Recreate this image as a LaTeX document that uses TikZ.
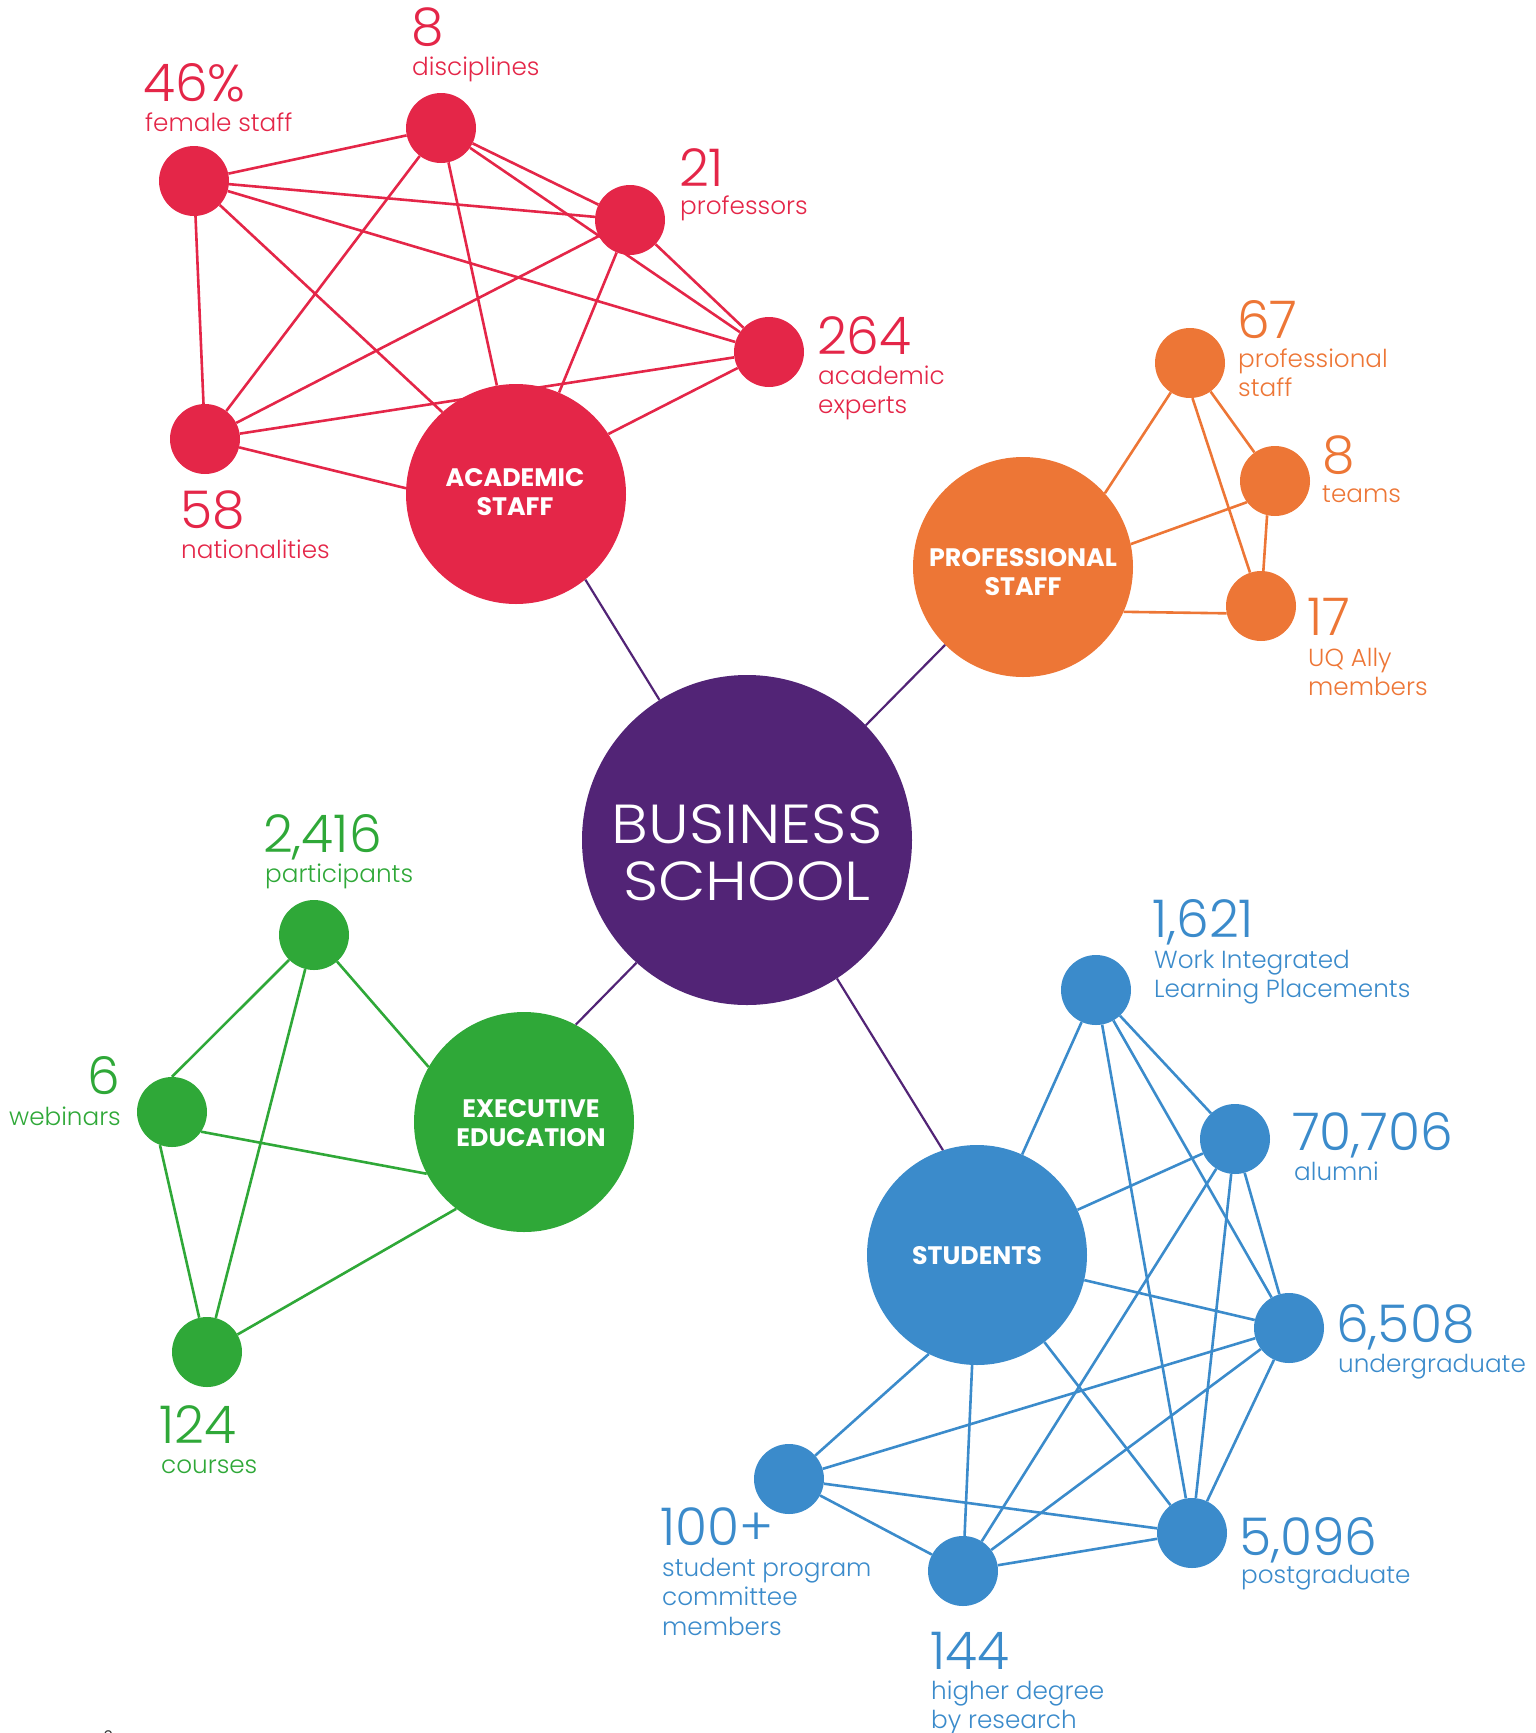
\documentclass[tikz,border=0pt]{standalone}
\usepackage{fontspec}
\setmainfont{Poppins}
\newfontfamily\lightf{Poppins Light}
\newfontfamily\widef{Poppins Light}[FakeStretch=1.12]
\newfontfamily\boldf{Poppins Bold}
\definecolor{ared}{RGB}{228,38,72}
\definecolor{aorange}{RGB}{237,118,54}
\definecolor{agreen}{RGB}{47,168,56}
\definecolor{ablue}{RGB}{59,139,203}
\definecolor{apurple}{RGB}{82,36,118}
\newcommand\ml[1]{\begin{tabular}[t]{@{}l@{}}#1\end{tabular}}
\newcommand\mc[1]{\begin{tabular}[t]{@{}c@{}}#1\end{tabular}}
\tikzset{
  dot/.style={circle, inner sep=0pt, minimum size=70pt, fill=#1},
  hub/.style={circle, inner sep=0pt, minimum size=220pt, fill=#1},
  link/.style={draw=#1, line width=2.6pt},
  plink/.style={draw=apurple, line width=2.2pt},
  num/.style={anchor=base west, inner sep=0pt, font=\lightf\fontsize{52}{56}\selectfont, text=#1},
  lbl/.style={anchor=base west, inner sep=0pt, font=\lightf\fontsize{24.7}{29.5}\selectfont, text=#1},
  inlbl/.style={anchor=base, inner sep=0pt, text=white, font=\boldf\fontsize{25.3}{29.5}\selectfont},
}
\begin{document}
\begin{tikzpicture}[x=1pt,y=-1pt]
\useasboundingbox (0,0) rectangle (1535,1733);
% ---- central hub
\node[circle, inner sep=0pt, minimum size=330pt, fill=apurple] (bs) at (747,840) {};
% ---- academic (red)
\node[dot=ared] (fem) at (194,181) {};
\node[dot=ared] (dis) at (441,128) {};
\node[dot=ared] (pro) at (630,220) {};
\node[dot=ared] (exp) at (769,352) {};
\node[dot=ared] (nat) at (205,439) {};
\node[hub=ared] (aca) at (516,494) {};
\foreach \a/\b in {fem/dis,fem/pro,fem/exp,fem/nat,dis/pro,dis/exp,dis/nat,pro/exp,pro/nat,exp/nat}
  \draw[link=ared] (\a) -- (\b);
\draw[link=ared] (fem) -- (aca.132);
\draw[link=ared] (dis) -- (aca.100);
\draw[link=ared] (pro) -- (aca.67);
\draw[link=ared] (exp) -- (aca.33);
\draw[link=ared] (nat) -- (aca.177);
% ---- professional (orange)
\node[dot=aorange] (psf) at (1190,363) {};
\node[dot=aorange] (tea) at (1275,481) {};
\node[dot=aorange] (uqa) at (1261,606) {};
\node[hub=aorange] (prf) at (1023,567) {};
\draw[link=aorange] (psf) -- (prf.42);
\draw[link=aorange] (prf.12) -- (tea.217);
\draw[link=aorange] (prf.-24) -- (uqa.192);
\draw[link=aorange] (psf) -- (tea);
\draw[link=aorange] (psf.-86) -- (uqa);
\draw[link=aorange] (tea.257) -- (uqa);
% ---- executive (green)
\node[dot=agreen] (par) at (314,935) {};
\node[dot=agreen] (web) at (172,1112) {};
\node[dot=agreen] (cou) at (207,1352) {};
\node[hub=agreen] (exe) at (524,1122) {};
\draw[link=agreen] (par) -- (web.north);
\draw[link=agreen] (par) -- (cou);
\draw[link=agreen] (par) -- (exe.150);
\draw[link=agreen] (web.-34) -- (exe.208);
\draw[link=agreen] (web.250) -- (cou);
\draw[link=agreen] (cou) -- (exe.232);
% ---- students (blue)
\node[dot=ablue] (wil) at (1096,990) {};
\node[dot=ablue] (alu) at (1235,1139) {};
\node[dot=ablue] (und) at (1289,1328) {};
\node[dot=ablue] (pos) at (1192,1533) {};
\node[dot=ablue] (hdr) at (963,1571) {};
\node[dot=ablue] (spc) at (789,1479) {};
\node[hub=ablue] (stu) at (977,1255) {};
\foreach \a/\b in {stu/wil,stu/alu,stu/und,stu/pos,stu/hdr,wil/alu,wil/und,wil/pos,alu/und,alu/pos,alu/hdr,und/pos,und/hdr,und/spc,pos/hdr,pos/spc,hdr/spc}
  \draw[link=ablue] (\a) -- (\b);
\draw[link=ablue] (spc) -- (stu.244);
% ---- purple spokes
\draw[plink] (bs.122.7) -- (aca.-51);
\draw[plink] (bs.44.5) -- (prf.225.4);
\draw[plink] (bs.228.5) -- (exe.62.4);
\draw[plink] (bs.-57) -- (stu.108.7);
% ---- hub texts
\node[anchor=base, inner sep=0pt, text=white, font=\widef\fontsize{55}{57}\selectfont] (bst) at (747,843) {\mc{BUSINESS\\SCHOOL}};
\node[inlbl] (acat) at (515,486) {\mc{ACADEMIC\\STAFF}};
\node[inlbl] (prft) at (1023,566) {\mc{PROFESSIONAL\\STAFF}};
\node[inlbl] (exet) at (531,1117) {\mc{EXECUTIVE\\EDUCATION}};
\node[inlbl] (stut) at (977,1264) {STUDENTS};
% ---- red labels
\node[num=ared] (n1) at (143,101) {46\%};
\node[lbl=ared] (t1) at (145,131) {female staff};
\node[num=ared] (n2) at (411,45) {8};
\node[lbl=ared] (t2) at (412,75) {disciplines};
\node[num=ared] (n3) at (679,186) {21};
\node[lbl=ared] (t3) at (680,214) {professors};
\node[num=ared] (n4) at (817,354) {264};
\node[lbl=ared] (t4) at (818,384) {\ml{academic\\experts}};
\node[num=ared] (n5) at (180,528) {58};
\node[lbl=ared] (t5) at (181,558) {nationalities};
% ---- orange labels
\node[num=aorange] (n6) at (1237,338) {67};
\node[lbl=aorange] (t6) at (1238,367) {\ml{professional\\staff}};
\node[num=aorange] (n7) at (1322,473) {8};
\node[lbl=aorange] (t7) at (1322,502) {teams};
\node[num=aorange] (n8) at (1307,635) {17};
\node[lbl=aorange] (t8) at (1308,666) {\ml{UQ Ally\\members}};
% ---- green labels
\node[num=agreen] (n9) at (263,852) {2,416};
\node[lbl=agreen] (t9) at (265,882) {participants};
\node[num=agreen, anchor=base east] (n10) at (120,1094) {6};
\node[lbl=agreen, anchor=base east] (t10) at (121,1125) {webinars};
\node[num=agreen] (n11) at (159,1443) {124};
\node[lbl=agreen] (t11) at (161,1473) {courses};
% ---- blue labels
\node[num=ablue] (n12) at (1152,937) {1,621};
\node[lbl=ablue] (t12) at (1154,968) {\ml{Work Integrated\\Learning Placements}};
\node[num=ablue] (n13) at (1292,1150) {70,706};
\node[lbl=ablue] (t13) at (1294,1180) {alumni};
\node[num=ablue] (n14) at (1336,1342) {6,508};
\node[lbl=ablue] (t14) at (1338,1372) {undergraduate};
\node[num=ablue] (n15) at (1239,1555) {5,096};
\node[lbl=ablue] (t15) at (1241,1583) {postgraduate};
\node[num=ablue] (n16) at (660,1545) {100+};
\node[lbl=ablue] (t16) at (662,1576) {\ml{student program\\committee\\members}};
\node[num=ablue] (n17) at (930,1669) {144};
\node[lbl=ablue] (t17) at (931,1699) {\ml{higher degree\\by research}};
% ---- page number (cut off)
\node[anchor=base west, inner sep=0pt, font=\fontsize{16}{18}\selectfont, text=black!80] (pg) at (103,1742) {6};
\end{tikzpicture}
\end{document}
